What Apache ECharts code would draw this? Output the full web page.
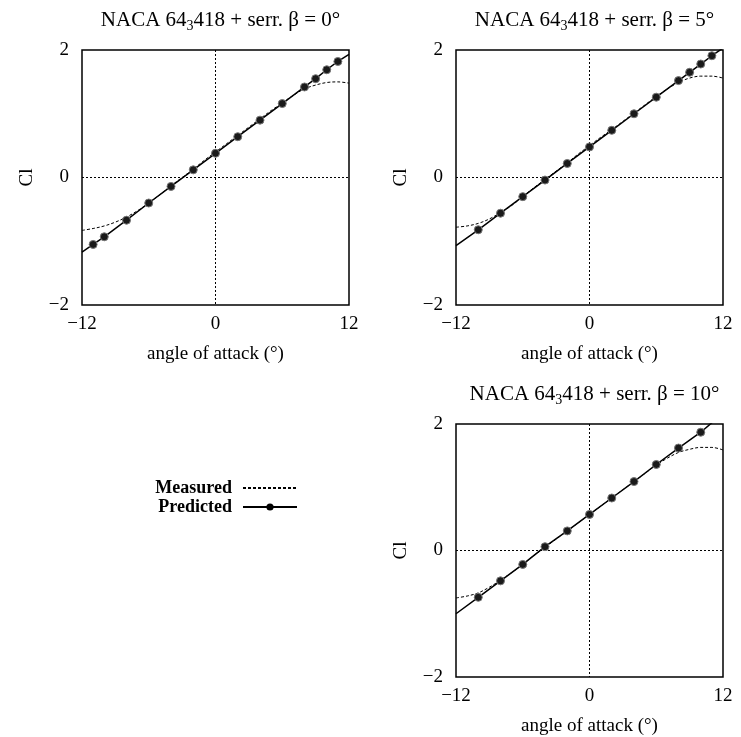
<!DOCTYPE html>
<html><head><meta charset="utf-8">
<script src="https://cdn.jsdelivr.net/npm/echarts@6/dist/echarts.min.js"></script>
<style>html,body{margin:0;padding:0;background:#fff}#c{width:741px;height:737px}</style>
</head><body><div id="c"></div>
<script>
// ---- data ----
const panelTitles = ['NACA 64{sub|3}418 + serr. β = 0°', 'NACA 64{sub|3}418 + serr. β = 5°', 'NACA 64{sub|3}418 + serr. β = 10°'];
const xTicks = [-12, 0, 12];
const yTicks = [-2, 0, 2];

const measuredAngles = [-12,-11,-10,-9,-8,-7,-6,-5,-4,-3,-2,-1,0,1,2,3,4,5,6,7,8,9,10,11,12];
const measuredCl0  = [-0.83,-0.80,-0.76,-0.70,-0.62,-0.52,-0.40,-0.27,-0.13,0.00,0.13,0.27,0.40,0.53,0.66,0.79,0.92,1.05,1.17,1.29,1.39,1.45,1.49,1.50,1.48];
const measuredCl5  = [-0.78,-0.76,-0.72,-0.65,-0.55,-0.44,-0.30,-0.16,-0.03,0.10,0.23,0.37,0.50,0.63,0.75,0.88,1.01,1.14,1.27,1.39,1.49,1.56,1.59,1.59,1.56];
const measuredCl10 = [-0.75,-0.72,-0.67,-0.58,-0.47,-0.35,-0.22,-0.08,0.05,0.18,0.31,0.44,0.57,0.70,0.83,0.96,1.09,1.22,1.35,1.46,1.55,1.60,1.63,1.63,1.59];

const predAngles0  = [-11,-10,-8,-6,-4,-2,0,2,4,6,8,9,10,11];
const predCl0      = [-1.05,-0.93,-0.67,-0.40,-0.14,0.12,0.38,0.64,0.90,1.16,1.42,1.55,1.69,1.82];
const predAngles5  = [-10,-8,-6,-4,-2,0,2,4,6,8,9,10,11];
const predCl5      = [-0.82,-0.56,-0.30,-0.04,0.22,0.48,0.74,1.00,1.26,1.52,1.65,1.78,1.91];
const predAngles10 = [-10,-8,-6,-4,-2,0,2,4,6,8,10];
const predCl10     = [-0.74,-0.48,-0.22,0.06,0.31,0.57,0.83,1.09,1.36,1.62,1.87];

// straight predicted line extended to the axis ends
const predLineEndAngles = [-12, 12];
const predLineEndCl0  = [-1.17, 1.93];
const predLineEndCl5  = [-1.07, 2.03];
const predLineEndCl10 = [-1.00, 2.17];

// ---- build ----
const FONT = 'Liberation Serif';
const grids = [
  {left: 82, top: 50, width: 267, height: 255},
  {left: 456, top: 50, width: 267, height: 255},
  {left: 456, top: 424, width: 267, height: 253}
];
const minus = v => (v < 0 ? '\u2212' + Math.abs(v) : String(v));

function measuredSeries(cl, idx) {
  return {
    type: 'line', name: 'Measured', xAxisIndex: idx, yAxisIndex: idx,
    data: measuredAngles.map((a, i) => [a, cl[i]]),
    symbol: 'none', smooth: 0.35,
    lineStyle: {color: '#000', width: 1, type: [3, 2]},
    itemStyle: {color: '#000'}, z: 3
  };
}
function predictedSeries(angles, cl, ends, idx) {
  const pts = angles.map((a, i) => [a, cl[i]]);
  const data = [{value: [predLineEndAngles[0], ends[0]], symbol: 'none'}]
    .concat(pts.map(p => ({value: p})))
    .concat([{value: [predLineEndAngles[1], ends[1]], symbol: 'none'}]);
  return {
    type: 'line', name: 'Predicted', xAxisIndex: idx, yAxisIndex: idx,
    data: data, symbol: 'circle', symbolSize: 8, showAllSymbol: true,
    lineStyle: {color: '#000', width: 1.5},
    itemStyle: {color: '#1a1a1a', borderColor: '#777', borderWidth: 1},
    clip: true, z: 4
  };
}

const TICK_FS = 19;
const xAxes = grids.map((g, i) => ({
  type: 'value', gridIndex: i, min: xTicks[0], max: xTicks[2], interval: 12,
  name: 'angle of attack (°)', nameLocation: 'middle', nameGap: 40,
  nameTextStyle: {fontFamily: FONT, fontSize: TICK_FS, color: '#000'},
  axisLine: {show: false}, axisTick: {show: false},
  axisLabel: {fontFamily: FONT, fontSize: TICK_FS, color: '#000', margin: 10, formatter: minus},
  splitLine: {show: true, showMinLine: false, showMaxLine: false, lineStyle: {type: [2, 2], color: '#000', width: 1}}
}));
const yAxes = grids.map((g, i) => ({
  type: 'value', gridIndex: i, min: yTicks[0], max: yTicks[2], interval: 2,
  name: 'Cl', nameLocation: 'middle', nameGap: 45, nameRotate: 90,
  nameTextStyle: {fontFamily: FONT, fontSize: TICK_FS, color: '#000'},
  axisLine: {show: false}, axisTick: {show: false},
  axisLabel: {fontFamily: FONT, fontSize: TICK_FS, color: '#000', margin: 13, formatter: minus},
  splitLine: {show: true, showMinLine: false, showMaxLine: false, lineStyle: {type: [2, 2], color: '#000', width: 1}}
}));

const titleTops = [3, 3, 377];
const titles = grids.map((g, i) => ({
  text: panelTitles[i], left: g.left + g.width / 2, top: titleTops[i], textAlign: 'center',
  textStyle: {
    fontFamily: FONT, fontSize: 21, fontWeight: 'normal', color: '#000', lineHeight: 25,
    rich: {sub: {fontFamily: FONT, fontSize: 14, lineHeight: 14, verticalAlign: 'bottom', color: '#000'}}
  }
}));

const legendText = {fontFamily: FONT, fontSize: 18, fontWeight: 'bold', color: '#000', padding: [0, 6, 0, 0]};
const option = {
  animation: false,
  backgroundColor: '#fff',
  title: titles,
  grid: grids.map(g => Object.assign({show: true, borderColor: '#000', borderWidth: 1.5, backgroundColor: 'transparent'}, g)),
  xAxis: xAxes,
  yAxis: yAxes,
  legend: [
    {data: ['Measured'], right: 443, top: 479, align: 'right', itemWidth: 54, itemHeight: 10, textStyle: legendText, padding: 0,
     itemStyle: {opacity: 0}},
    {data: ['Predicted'], right: 443, top: 498, align: 'right', itemWidth: 54, itemHeight: 9, textStyle: legendText, padding: 0,
     itemStyle: {color: '#000', borderWidth: 0}}
  ],
  series: [
    measuredSeries(measuredCl0, 0),
    predictedSeries(predAngles0, predCl0, predLineEndCl0, 0),
    measuredSeries(measuredCl5, 1),
    predictedSeries(predAngles5, predCl5, predLineEndCl5, 1),
    measuredSeries(measuredCl10, 2),
    predictedSeries(predAngles10, predCl10, predLineEndCl10, 2)
  ]
};
echarts.init(document.getElementById('c'), null, {renderer: 'canvas'}).setOption(option);
</script>
</body></html>
